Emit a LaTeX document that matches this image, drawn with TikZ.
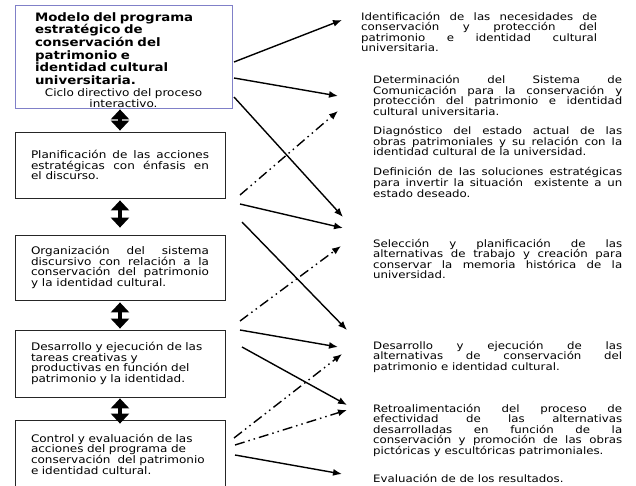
\documentclass[tikz,border=0pt]{standalone}
\usepackage{fontspec}
\setmainfont{DejaVu Sans}[FakeStretch=1.15]
\usepackage{tikz}
\usetikzlibrary{arrows.meta,shapes}
\definecolor{frameblue}{RGB}{128,128,200}
\newcommand{\boxfont}{\fontsize{10.45}{10.6}\selectfont\lineskiplimit=-20pt\sloppy\hyphenpenalty=10000}
\newcommand{\notefont}{\fontsize{10.25}{10.5}\selectfont\lineskiplimit=-20pt\sloppy\hyphenpenalty=10000}
\newcommand{\titleline}[1]{\makebox[177pt][l]{\fontsize{11.6}{12.6}\selectfont\bfseries #1}}
\tikzstyle{box}=[draw=black!85,line width=0.8pt,inner xsep=16pt,inner ysep=0pt,text width=178pt,minimum width=210pt,font=\boxfont]
\tikzstyle{note}=[anchor=base west,inner sep=0pt,text width=249pt,align=justify,font=\notefont]
\tikzstyle{edge}=[draw,line width=1.4pt,-{Latex[length=9pt,width=7pt]}]
\tikzstyle{back}=[edge,dash pattern=on 10pt off 4pt on 1.5pt off 4pt on 1.5pt off 4pt]
\tikzstyle{twoway}=[draw,line width=4pt,{Triangle[length=10pt,width=18pt]}-{Triangle[length=10pt,width=18pt]}]

\begin{document}
\begin{tikzpicture}[x=1pt,y=-1pt]
        \useasboundingbox (0,0) rectangle (636,486);
        % left column
        \node[box,draw=frameblue,align=center,minimum width=217pt,minimum height=103pt,text width=177pt,inner xsep=20pt] (b1) at (123.5,56.5)
          {\rule{0pt}{15.6pt}\titleline{Modelo del programa}\\[2pt] \titleline{estratégico de}\\[2pt] \titleline{conservación del}\\[2pt]
           \titleline{patrimonio e}\\[2pt] \titleline{identidad cultural}\\[2pt] \titleline{universitaria.}\\[1.5pt]
           Ciclo directivo del proceso\\ interactivo.};
        \node[box,align=justify,minimum height=66pt] (b2) at (120,165) {Planificación de las acciones\linebreak estratégicas con énfasis en\linebreak el discurso.};
        \node[box,align=justify,minimum height=65pt] (b3) at (120,267.5) {Organización del sistema\linebreak discursivo con relación a la\linebreak conservación del patrimonio\linebreak y la identidad cultural.};
        \node[box,align=left,minimum height=67pt] (b4) at (120,363.5) {Desarrollo y ejecución de las\\ tareas creativas y\\ productivas en función del\\ patrimonio y la identidad.};
        \node[box,align=left,minimum height=68pt] (b5) at (120,454) {Control y evaluación de las\\ acciones del programa de\\ conservación\ \ del patrimonio\\ e identidad cultural.};

        \draw[twoway,shorten <=1pt,shorten >=1pt] (b2.north |- b1.south) -- (b2.north);
        \draw[twoway,shorten <=2pt,shorten >=7pt] (b2.south) -- (b3.north);
        \draw[twoway,shorten <=2pt,shorten >=1pt] (b3.south) -- (b4.north);
        \draw[twoway,shorten <=1pt,shorten >=-4pt] (b4.south) -- (b5.north);

        % right column
        \node[note,text width=236pt] (t1) at (361,20.5) {Identificación de las necesidades de\linebreak conservación y protección del\linebreak patrimonio e identidad cultural\linebreak universitaria.};
        \node[note] (t2) at (373,84) {Determinación del Sistema de\linebreak Comunicación para la conservación y\linebreak protección del patrimonio e identidad\linebreak cultural universitaria.};
        \node[note] (t3) at (373,135) {Diagnóstico del estado actual de las\linebreak obras patrimoniales y su relación con la\linebreak identidad cultural de la universidad.};
        \node[note] (t4) at (373,176) {Definición de las soluciones estratégicas\linebreak para invertir la situación\ \ existente a un\linebreak estado deseado.};
        \node[note] (t5) at (373,247) {Selección y planificación de las\linebreak alternativas de trabajo y creación para\linebreak conservar la memoria histórica de la\linebreak universidad.};
        \node[note] (t6) at (373,349) {Desarrollo y ejecución de las\linebreak alternativas de conservación del\linebreak patrimonio e identidad cultural.};
        \node[note] (t7) at (373,412) {Retroalimentación del proceso de\linebreak efectividad de las alternativas\linebreak desarrolladas en función de la\linebreak conservación y promoción de las obras\linebreak pictóricas y escultóricas patrimoniales.};
        \node[note] (t8) at (373,482) {Evaluación de de los resultados.};

        % arrow ends
        \coordinate (s1) at (234,62);   \coordinate (e1) at (342,20);
        \coordinate (s2) at (234,78);   \coordinate (e2) at (338,96);
        \coordinate (s3) at (234,97);   \coordinate (e3) at (343,217);
        \coordinate (s4) at (240,195);  \coordinate (e4) at (338,111);
        \coordinate (s5) at (240,204);  \coordinate (e5) at (343,228);
        \coordinate (s6) at (242,222);  \coordinate (e6) at (347,330);
        \coordinate (s7) at (240,321);  \coordinate (e7) at (341,246);
        \coordinate (s8) at (240,330);  \coordinate (e8) at (338,347);
        \coordinate (s9) at (242,347);  \coordinate (e9) at (347,405);
        \coordinate (s10) at (234,438); \coordinate (e10) at (342,354);
        \coordinate (s11) at (235,445); \coordinate (e11) at (347,410);
        \coordinate (s12) at (235,455); \coordinate (e12) at (342,474);

        \draw[edge] (s1) to (e1);
        \draw[edge] (s2) to (e2);
        \draw[edge] (s3) to (e3);
        \draw[back] (s4) to (e4);
        \draw[edge] (s5) to (e5);
        \draw[edge] (s6) to (e6);
        \draw[back] (s7) to (e7);
        \draw[edge] (s8) to (e8);
        \draw[edge] (s9) to (e9);
        \draw[back] (s10) to (e10);
        \draw[back] (s11) to (e11);
        \draw[edge] (s12) to (e12);
\end{tikzpicture}
\end{document}
